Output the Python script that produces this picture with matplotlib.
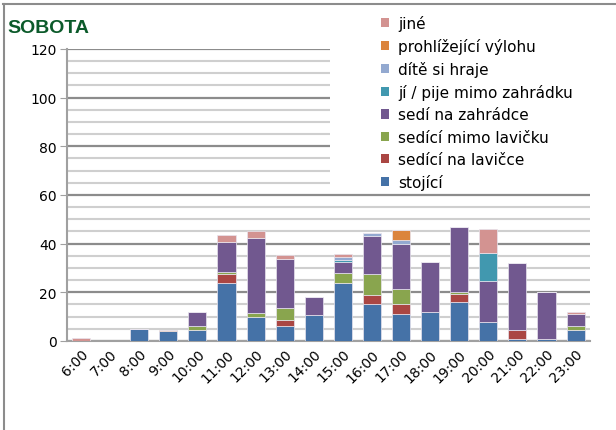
import matplotlib
matplotlib.use("Agg")
import matplotlib.pyplot as plt
from matplotlib.patches import Patch, Rectangle
from matplotlib.lines import Line2D
import numpy as np

# hodiny
hodiny = ["6:00", "7:00", "8:00", "9:00", "10:00", "11:00", "12:00", "13:00", "14:00",
          "15:00", "16:00", "17:00", "18:00", "19:00", "20:00", "21:00", "22:00", "23:00"]

# kategorie odspodu nahoru
stojici        = [0, 0, 5, 4, 4.5, 24, 10, 6, 10.5, 24, 15, 11, 12, 16, 8, 1, 1, 4.5]
sedici_lavicka = [0, 0, 0, 0, 0, 3.5, 0, 2.5, 0, 0, 4, 4, 0, 3.5, 0, 3.5, 0, 0]
sedici_mimo    = [0, 0, 0, 0, 1.5, 1, 1.5, 5, 0, 4, 8.5, 6.5, 0, 0.8, 0, 0, 0, 1.5]
sedi_zahradka  = [0, 0, 0, 0, 6, 12, 31, 20, 7.5, 4.5, 15.5, 18.5, 20.5, 26.5, 16.5, 27.5, 19, 5]
ji_pije        = [0, 0, 0, 0, 0, 0, 0, 0, 0, 0.7, 0, 0, 0, 0, 11.5, 0, 0, 0]
dite           = [0, 0, 0, 0, 0, 0, 0, 0, 0, 1.5, 1.5, 1.5, 0, 0, 0, 0, 0, 0]
vyloha         = [0, 0, 0, 0.5, 0, 0, 0, 0, 0, 0, 0, 4, 0, 0, 0, 0, 0, 0]
jine           = [1.3, 0, 0, 0, 0, 3, 2.5, 2, 0, 1, 0, 0, 0, 0, 10, 0, 0, 1]

serie = [
    ("stojící", stojici, "#4572A7"),
    ("sedící na lavičce", sedici_lavicka, "#AA4643"),
    ("sedící mimo lavičku", sedici_mimo, "#89A54E"),
    ("sedí na zahrádce", sedi_zahradka, "#71588F"),
    ("jí / pije mimo zahrádku", ji_pije, "#4198AF"),
    ("dítě si hraje", dite, "#93A9D0"),
    ("prohlížející výlohu", vyloha, "#DB843D"),
    ("jiné", jine, "#D39391"),
]

fig = plt.figure(figsize=(6.16, 4.31), dpi=100)
ax = fig.add_axes([0.108, 0.2065, 0.85, 0.6775])

x = np.arange(len(hodiny))
spodek = np.zeros(len(hodiny))
for nazev, hodnoty, barva in serie:
    h = np.array(hodnoty, dtype=float)
    ax.bar(x, h, bottom=spodek, width=0.62, color=barva, edgecolor="#e8e4ee",
           linewidth=0.5, zorder=3)
    spodek += h

ax.set_xlim(-0.5, len(hodiny) - 0.5)
ax.set_ylim(0, 120)
ax.set_yticks(range(0, 121, 20))
ax.set_yticks(range(0, 121, 5), minor=True)
ax.grid(axis="y", which="minor", color="#cfcfcf", linewidth=1.5, zorder=0)
ax.grid(axis="y", which="major", color="#8c8c8c", linewidth=1.6, zorder=1)
ax.set_axisbelow(True)

for s in ["top", "right"]:
    ax.spines[s].set_visible(False)
ax.spines["left"].set_color("#a0a0a0")
ax.spines["left"].set_linewidth(1.5)
ax.spines["bottom"].set_color("#a0a0a0")
ax.spines["bottom"].set_linewidth(1.5)

ax.tick_params(axis="y", which="major", length=5, color="#a0a0a0", labelsize=10, pad=2)
ax.tick_params(axis="y", which="minor", length=0)
ax.tick_params(axis="x", length=0, labelsize=10, pad=4)
ax.set_xticks(x)
ax.set_xticklabels(hodiny, rotation=45, ha="right", rotation_mode="anchor")

# bílé pozadí legendy přes mřížku
fig.patches.append(Rectangle((330 / 616, 1 - 190 / 431), 1, 1, transform=fig.transFigure,
                             facecolor="white", edgecolor="none", zorder=1))
ax.set_zorder(0)

handles = [Patch(facecolor=b, edgecolor="none") for _, _, b in reversed(serie)]
labels = [n for n, _, _ in reversed(serie)]
fig.legend(handles, labels, loc="upper left", bbox_to_anchor=(373 / 616, 1 - 8 / 431),
           frameon=False, fontsize=11, handlelength=0.55, handleheight=0.55,
           handletextpad=0.6, labelspacing=0.47, borderpad=0)

fig.text(7 / 616, 1 - 33 / 431, "SOBOTA", color="#0b5a2a", fontsize=14,
         fontweight="bold", family="Liberation Sans")

# rámeček
fig.add_artist(Line2D([3.5 / 616, 3.5 / 616], [0, 1 - 5 / 431], color="#8c8c8c",
                      linewidth=1.5, transform=fig.transFigure))
fig.add_artist(Line2D([3 / 616, 1], [1 - 5 / 431, 1 - 5 / 431], color="#8c8c8c",
                      linewidth=1.5, transform=fig.transFigure))

fig.savefig("out.png", dpi=100)
